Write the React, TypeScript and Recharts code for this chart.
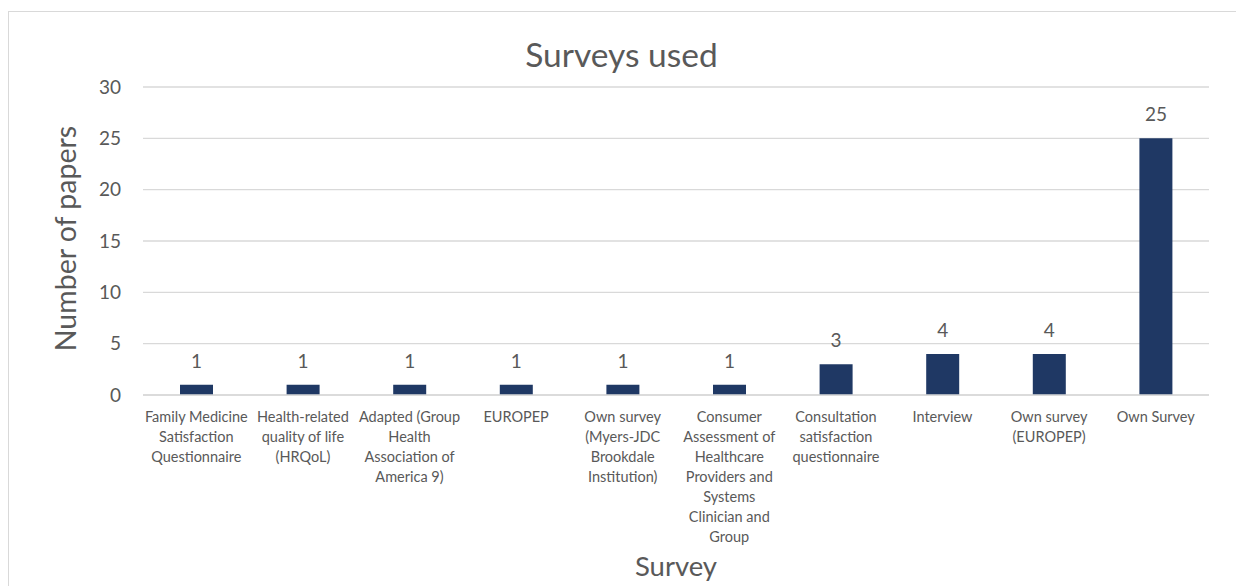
import React from "react";
import { BarChart, Bar, XAxis, YAxis, CartesianGrid } from "recharts";

// Survey instruments (line breaks mark how each axis label wraps)
const surveyLabels: string[] = [
  "Family Medicine\nSatisfaction\nQuestionnaire",
  "Health-related\nquality of life\n(HRQoL)",
  "Adapted (Group\nHealth\nAssociation of\nAmerica 9)",
  "EUROPEP",
  "Own survey\n(Myers-JDC\nBrookdale\nInstitution)",
  "Consumer\nAssessment of\nHealthcare\nProviders and\nSystems\nClinician and\nGroup",
  "Consultation\nsatisfaction\nquestionnaire",
  "Interview",
  "Own survey\n(EUROPEP)",
  "Own Survey",
];

// Number of papers that used each survey
const paperCounts: number[] = [1, 1, 1, 1, 1, 1, 3, 4, 4, 25];

// Value axis ticks
const yTicks: number[] = [0, 5, 10, 15, 20, 25, 30];

const chartData = surveyLabels.map((survey, i) => ({
  survey,
  papers: paperCounts[i],
}));

const FONT = "Lato, 'Open Sans', sans-serif";
const TEXT = "#595959";
const GRID = "#d9d9d9";
const BAR = "#1F3864";

const CHART_W = 1227;
const CHART_H = 574;

function SurveyTick(props: any) {
  const { x, y, payload } = props;
  const lines = String(payload.value).split("\n");
  return (
    <text
      x={x}
      y={y + 27}
      textAnchor="middle"
      fill={TEXT}
      fontFamily={FONT}
      fontSize={14.5}
    >
      {lines.map((line, i) => (
        <tspan key={i} x={x} dy={i === 0 ? 0 : 20}>
          {line}
        </tspan>
      ))}
    </text>
  );
}

function CountLabel(props: any) {
  const { x, y, width, value } = props;
  return (
    <text
      x={x + width / 2}
      y={y - 17}
      textAnchor="middle"
      fill={TEXT}
      fontFamily={FONT}
      fontSize={19}
    >
      {value}
    </text>
  );
}

export default function App() {
  return (
    <div
      style={{
        position: "fixed",
        left: 8,
        top: 11,
        width: CHART_W + 40,
        height: CHART_H + 20,
        borderTop: `1px solid ${GRID}`,
        borderLeft: `1px solid ${GRID}`,
        background: "#fff",
      }}
    >
      <BarChart
        width={CHART_W}
        height={CHART_H}
        data={chartData}
        margin={{ top: 75, right: 27, left: 74, bottom: 11 }}
      >
        <CartesianGrid vertical={false} stroke={GRID} strokeWidth={1.3} />
        <XAxis
          dataKey="survey"
          interval={0}
          height={180}
          axisLine={{ stroke: GRID, strokeWidth: 1.3 }}
          tickLine={false}
          tickSize={0}
          tickMargin={0}
          tick={<SurveyTick />}
        />
        <YAxis
          width={60}
          domain={[0, 30]}
          ticks={yTicks}
          interval={0}
          axisLine={false}
          tickLine={false}
          tickSize={0}
          tickMargin={22}
          tick={{ fill: TEXT, fontFamily: FONT, fontSize: 19 }}
        />
        <Bar
          dataKey="papers"
          fill={BAR}
          barSize={33}
          isAnimationActive={false}
          label={<CountLabel />}
        />
      </BarChart>
      <svg
        width={CHART_W}
        height={CHART_H}
        style={{ position: "absolute", left: 0, top: 0, pointerEvents: "none" }}
      >
        <text
          x={612.5}
          y={55}
          textAnchor="middle"
          fill={TEXT}
          fontFamily={FONT}
          fontSize={33.5}
        >
          Surveys used
        </text>
        <text
          transform="translate(67, 226.5) rotate(-90)"
          textAnchor="middle"
          fill={TEXT}
          fontFamily={FONT}
          fontSize={28.5}
        >
          Number of papers
        </text>
        <text
          x={667}
          y={564}
          textAnchor="middle"
          fill={TEXT}
          fontFamily={FONT}
          fontSize={27.5}
        >
          Survey
        </text>
      </svg>
    </div>
  );
}
